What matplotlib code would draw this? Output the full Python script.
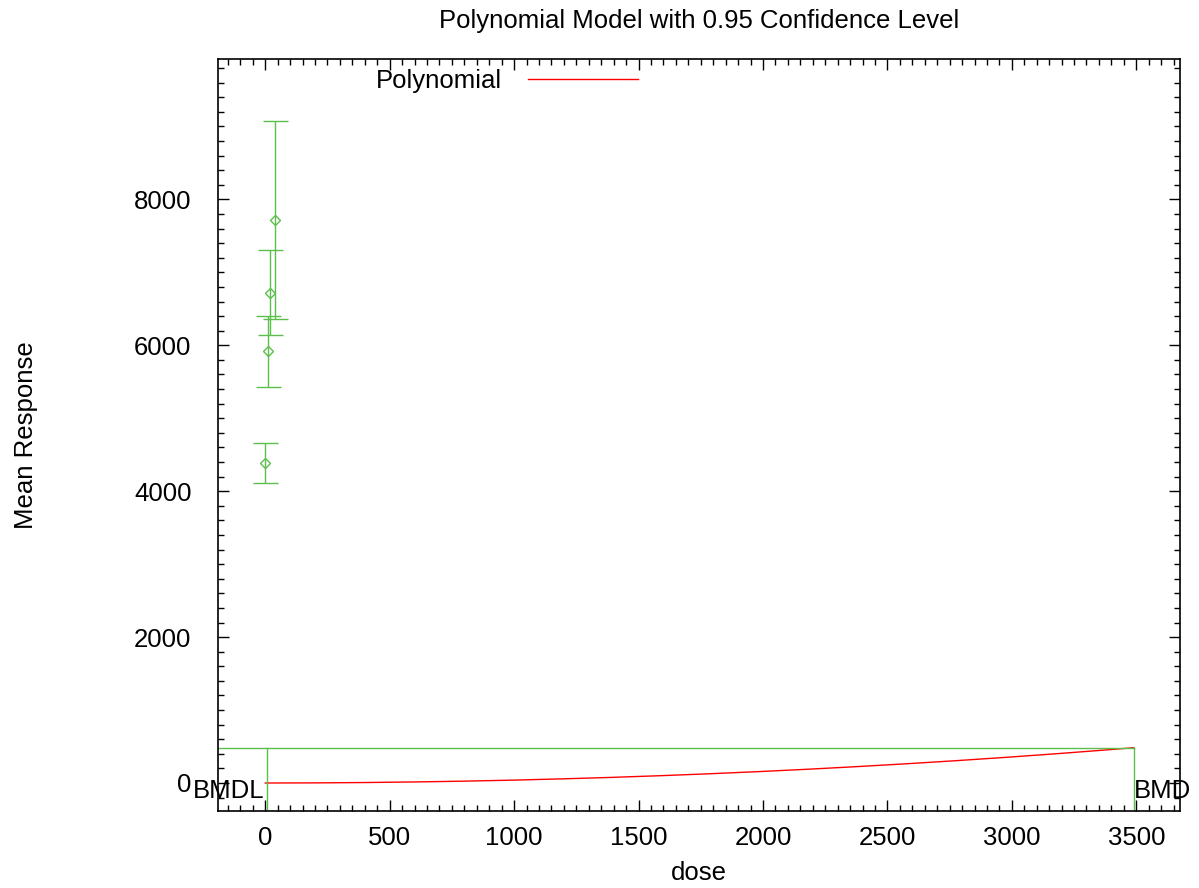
import numpy as np
import matplotlib.pyplot as plt
from matplotlib.ticker import MultipleLocator

plt.rcParams['font.family'] = ['Liberation Sans', 'DejaVu Sans']

# observed group means with 95% limits
dose = [0, 10, 20, 40]
mean = [4391, 5926, 6721, 7718]
upper = [4664, 6402, 7302, 9071]
lower = [4117, 5433, 6137, 6365]

# fitted polynomial and benchmark values
coef = [0.0, 0.0, 3.97e-5]
bmd = 3490
bmdl = 5
bmr_level = 484

green = '#5cbf4c'
red = '#ff0000'
fs = 18.5

fig = plt.figure(figsize=(11.99, 8.88), dpi=100)
ax = fig.add_axes([0.1818, 0.0867, 0.8024, 0.8469])

yerr = [np.subtract(mean, lower), np.subtract(upper, mean)]
ax.errorbar(dose, mean, yerr=yerr, fmt='D', color=green, mfc='none',
            ms=5, mew=1, elinewidth=1, capsize=9, capthick=1)

x = np.linspace(0, bmd, 300)
y = coef[0] + coef[1] * x + coef[2] * x ** 2
ax.plot(x, y, color=red, lw=1, label='Polynomial')

xmin, xmax = -190, 3676
ymin, ymax = -384, 9925
ax.plot([xmin, bmd], [bmr_level, bmr_level], color=green, lw=1)
ax.plot([bmdl, bmdl], [ymin, bmr_level], color=green, lw=1)
ax.plot([bmd, bmd], [ymin, bmr_level], color=green, lw=1)

ax.text(bmdl - 8, -110, 'BMDL', ha='right', va='center', fontsize=fs)
ax.text(bmd, -110, 'BMD', ha='left', va='center', fontsize=fs)

ax.set_xlim(xmin, xmax)
ax.set_ylim(ymin, ymax)
ax.xaxis.set_major_locator(MultipleLocator(500))
ax.xaxis.set_minor_locator(MultipleLocator(50))
ax.yaxis.set_major_locator(MultipleLocator(2000))
ax.yaxis.set_minor_locator(MultipleLocator(200))
ax.tick_params(which='both', direction='in', top=True, right=True,
               labelsize=fs, width=1)
ax.tick_params(which='major', length=8)
ax.tick_params(which='minor', length=4)
ax.tick_params(axis='x', which='major', pad=11)
ax.tick_params(axis='y', which='major', pad=19)
for s in ax.spines.values():
    s.set_linewidth(1.2)

ax.set_xlabel('dose', fontsize=fs, labelpad=8)
ax.set_ylabel('Mean Response', fontsize=fs, labelpad=69)
ax.set_title('Polynomial Model with 0.95 Confidence Level', fontsize=18.5, pad=22)

ax.legend(loc='upper left', bbox_to_anchor=(0.14, 1.017), frameon=False,
          markerfirst=False, fontsize=fs, handlelength=4.3, handletextpad=1.0)

fig.savefig('out.png', dpi=100)
